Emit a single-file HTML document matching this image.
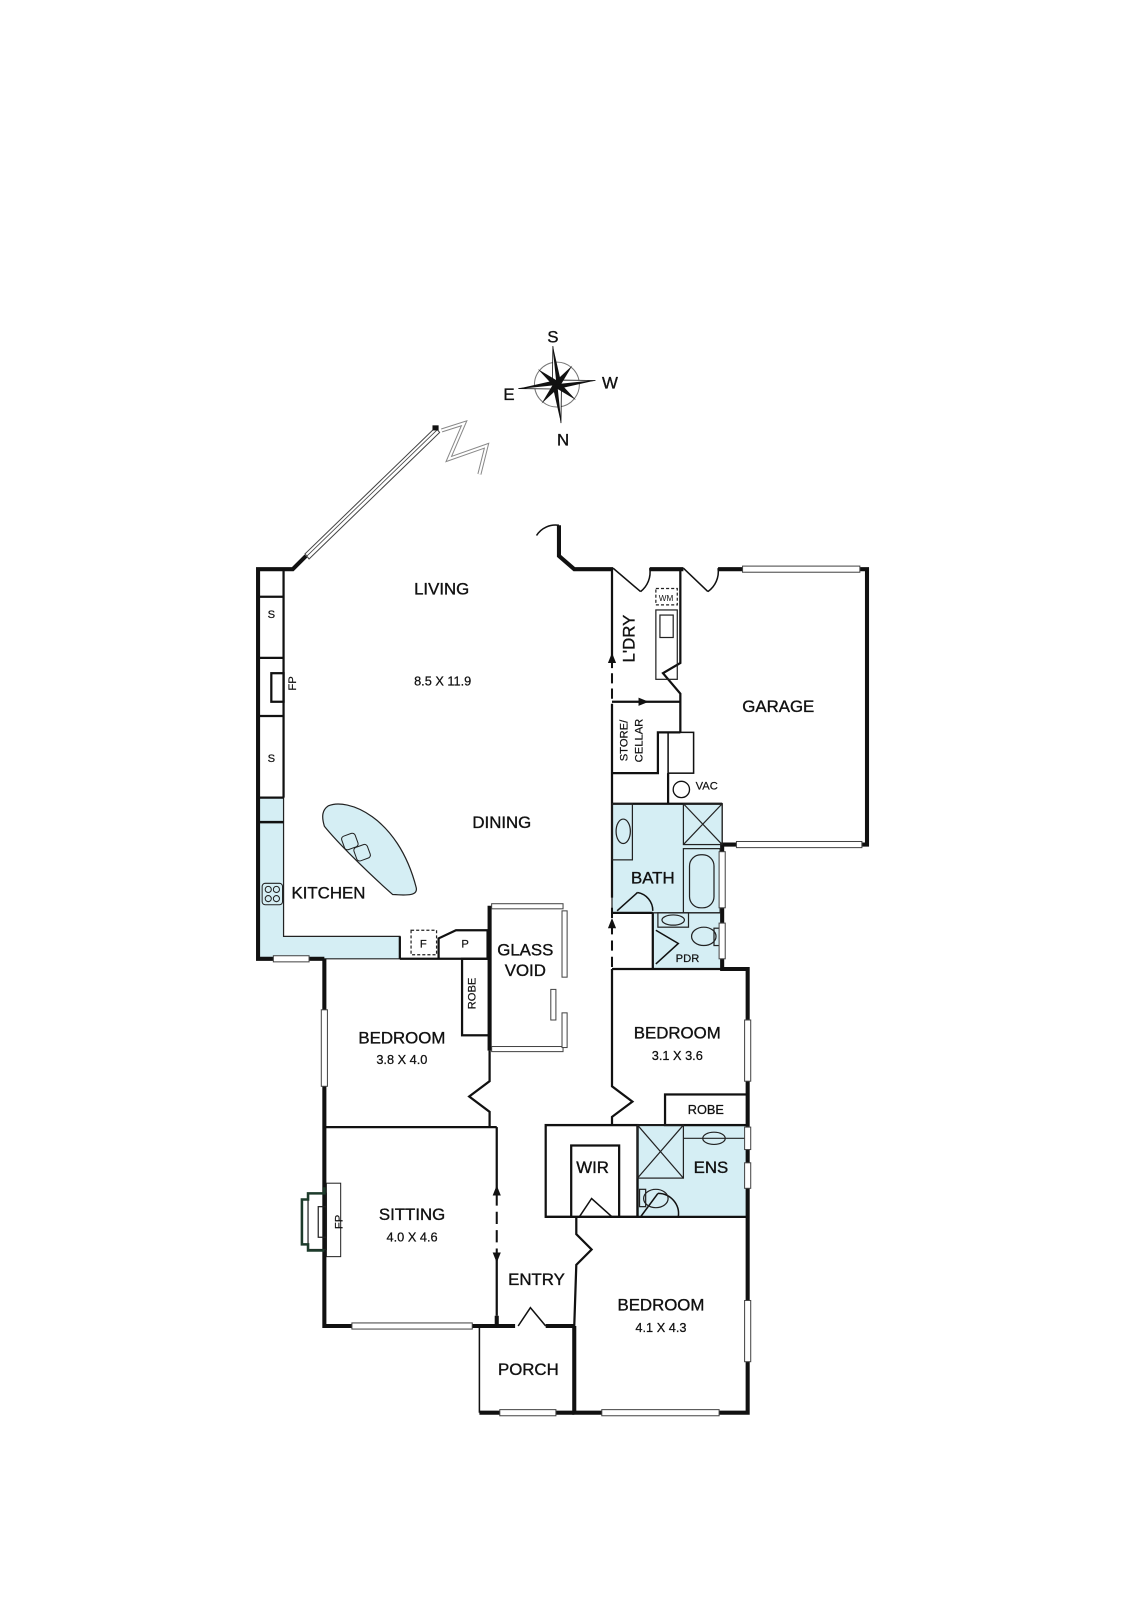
<!DOCTYPE html>
<html><head><meta charset="utf-8"><style>
html,body{margin:0;padding:0;background:#fff;}
svg{display:block;}
text{font-family:"Liberation Sans",sans-serif;fill:#111;}
.r{font-size:16.5px;font-weight:500;stroke:#111;stroke-width:0.35;}
.d{font-size:12.5px;stroke:#111;stroke-width:0.25;}
.s{font-size:11px;stroke:#111;stroke-width:0.2;}
</style></head><body>
<svg width="1131" height="1600" viewBox="0 0 1131 1600" xmlns="http://www.w3.org/2000/svg">
<g transform="scale(1.02)">
<g fill="#d5eef4" stroke="#222" stroke-width="1.2">
<polygon points="253,782 278,782 278,918 392,918 392,940 253,940"/>
<rect x="600" y="788" width="108" height="107"/>
<polygon points="640,895 708,895 708,950 640,950"/>
<rect x="625" y="1103" width="108" height="90"/>
<path d="M322,790 C340,782 390,800 408,870 C410,878 400,878 385,877 C360,855 330,825 318,810 C315,800 316,794 322,790 Z"/>
</g>
<line x1="253" y1="806" x2="278" y2="806" stroke="#111" stroke-width="2.5"/>
<rect x="257" y="866" width="20" height="21" rx="3" fill="#d5eef4" stroke="#222"/>
<g fill="none" stroke="#222" stroke-width="1"><circle cx="263" cy="872" r="3"/><circle cx="271" cy="872" r="3"/><circle cx="263" cy="881" r="3"/><circle cx="271" cy="881" r="3"/></g>
<rect x="336" y="818" width="14" height="14" rx="3" fill="#d5eef4" stroke="#222" transform="rotate(-20 343 825)"/>
<rect x="348" y="829" width="14" height="14" rx="3" fill="#d5eef4" stroke="#222" transform="rotate(-20 355 836)"/>

<g fill="none" stroke="#111" stroke-width="4" stroke-linejoin="miter">
<polyline points="300,545 287,558 253,558 253,940 268,940"/>
<polyline points="548,515 548,545 563,558 601,558"/>
<polyline points="637,558 670,558"/>
<polyline points="704,558 728,558"/>
<polyline points="843,558 850,558 850,828 845,828"/>
<polyline points="722,828 708,828 708,950 733,950 733,1385 705,1385"/>
<polyline points="590,1385 563,1385 563,1300"/>
<polyline points="318,940 318,1300 345,1300"/>
<polyline points="463,1300 487,1300 487,1290"/>
<polyline points="487,1300 505,1300"/>
<polyline points="535,1300 563,1300"/>
<polyline points="470,1385 490,1385"/>
<polyline points="545,1385 563,1385"/>
<polyline points="480,888 480,1030"/>
<polyline points="303,940 318,940"/>
</g>
<g fill="none" stroke="#111" stroke-width="2.2">
<line x1="278" y1="558" x2="278" y2="782"/>
<line x1="253" y1="585" x2="278" y2="585"/>
<line x1="253" y1="645" x2="278" y2="645"/>
<line x1="253" y1="702" x2="278" y2="702"/>
<line x1="253" y1="782" x2="278" y2="782"/>
<rect x="266" y="660" width="12" height="28"/>
<line x1="392" y1="940" x2="480" y2="940"/>
<polyline points="392,918 392,940"/>
<polyline points="430,940 430,920 447,912 478,912 478,940"/>
<rect x="453" y="940" width="27" height="75"/>
<polyline points="480,1030 480,1060 460,1075 480,1090 480,1105"/>
<line x1="318" y1="1105" x2="487" y2="1105"/>
<polyline points="487,1105 487,1165"/>
<polyline points="487,1235 487,1290"/>
<line x1="470" y1="1300" x2="470" y2="1385" stroke-width="1.5"/>
<polyline points="563,1300 565,1240 580,1225 565,1210 565,1193"/>
<line x1="600" y1="558" x2="600" y2="645"/>
<line x1="600" y1="690" x2="600" y2="880"/>
<polyline points="600,950 600,1065 620,1080 600,1095 600,1103"/>
<line x1="600" y1="950" x2="708" y2="950"/>
<line x1="600" y1="688" x2="667" y2="688"/>
<polyline points="667,558 667,650 650,660 667,680 667,718"/>
<polyline points="600,758 645,758 645,718 667,718"/>
<rect x="655" y="718" width="25" height="40" stroke-width="1.5"/>
<polyline points="655,758 655,788"/>
<circle cx="668" cy="774" r="8" stroke-width="1.3"/>
<line x1="600" y1="788" x2="708" y2="788"/>
<line x1="600" y1="895" x2="640" y2="895"/>
<line x1="640" y1="895" x2="640" y2="950"/>
<line x1="535" y1="1103" x2="733" y2="1103"/>
<rect x="652" y="1073" width="81" height="30"/>
<rect x="535" y="1103" width="90" height="90"/>
<polyline points="560,1193 560,1123 607,1123 607,1193"/>
<line x1="535" y1="1193" x2="733" y2="1193"/>
<line x1="625" y1="1103" x2="625" y2="1193"/>
</g>
<g fill="none" stroke="#111" stroke-width="1.5">
<path d="M548,515 A22,22 0 0 0 526,525"/>
<polyline points="601,557 628,580"/><path d="M628,580 A24,24 0 0 0 637,557"/>
<polyline points="670,557 694,580"/><path d="M694,580 A24,24 0 0 0 704,557"/>
<polyline points="605,893 625,875"/><path d="M625,875 A18,18 0 0 1 640,893"/>
<polyline points="643,912 665,925 643,945"/>
<polyline points="628,1193 645,1170"/><path d="M645,1170 A20,20 0 0 1 665,1193"/>
<polyline points="568,1193 580,1175 600,1193"/>
<polyline points="508,1300 520,1282 535,1300"/>
<line x1="487" y1="1170" x2="487" y2="1230" stroke-dasharray="12,6" stroke-width="2"/>
<line x1="602" y1="688" x2="630" y2="688" stroke-dasharray="10,5"/>
<line x1="600" y1="645" x2="600" y2="690" stroke-dasharray="10,5" stroke-width="2"/>
<line x1="600" y1="890" x2="600" y2="950" stroke-dasharray="10,6" stroke-width="2"/>
</g>
<g fill="#111">
<polygon points="487,1162 483,1172 491,1172"/><polygon points="487,1238 483,1228 491,1228"/>
<polygon points="600,640 596,650 604,650"/><polygon points="600,900 596,910 604,910"/>
<polygon points="636,688 626,684 626,692"/>
</g>
<g fill="none" stroke="#222" stroke-width="1.2">
<rect x="643" y="577" width="21" height="16" stroke-dasharray="3,2"/>
<rect x="643" y="598" width="21" height="68"/>
<rect x="647" y="603" width="13" height="22"/>
<rect x="403" y="912" width="25" height="24" stroke-dasharray="3,2"/>
<rect x="670" y="788" width="38" height="40"/>
<line x1="670" y1="788" x2="708" y2="828"/><line x1="708" y1="788" x2="670" y2="828"/>
<rect x="670" y="832" width="36" height="63"/>
<rect x="676" y="838" width="24" height="52" rx="11"/>
<rect x="600" y="788" width="20" height="55"/>
<ellipse cx="611" cy="815" rx="7" ry="12"/>
<rect x="645" y="895" width="30" height="14"/>
<ellipse cx="660" cy="902" rx="11" ry="5"/>
<ellipse cx="690" cy="918" rx="12" ry="9"/>
<rect x="700" y="910" width="8" height="17"/>
<rect x="625" y="1103" width="45" height="52"/>
<line x1="625" y1="1103" x2="670" y2="1155"/><line x1="670" y1="1103" x2="625" y2="1155"/>
<line x1="670" y1="1116" x2="733" y2="1116"/>
<ellipse cx="700" cy="1116" rx="11" ry="6"/>
<ellipse cx="643" cy="1175" rx="12" ry="9"/>
<rect x="627" y="1166" width="6" height="17"/>
<rect x="302" y="1170" width="18" height="55"/>
<rect x="312" y="1183" width="8" height="30"/>
<path d="M318,1164 L318,1170 L302,1170 L302,1176 L296,1176 L296,1220 L302,1220 L302,1226 L318,1226" stroke="#1d3b2b" stroke-width="2.5"/>
<rect x="320" y="1160" width="14" height="72" stroke-width="1"/>
</g>
<g fill="#fff" stroke="#444" stroke-width="1">
<rect x="728" y="555" width="115" height="6"/>
<rect x="722" y="825" width="123" height="6"/>
<rect x="705" y="835" width="6" height="55"/>
<rect x="705" y="905" width="6" height="35"/>
<rect x="730" y="1000" width="6" height="60"/>
<rect x="730" y="1105" width="6" height="22"/><rect x="730" y="1140" width="6" height="25"/>
<rect x="730" y="1275" width="6" height="60"/>
<rect x="590" y="1382" width="115" height="6"/>
<rect x="490" y="1382" width="55" height="6"/>
<rect x="345" y="1297" width="118" height="6"/>
<rect x="315" y="990" width="6" height="75"/>
<rect x="268" y="937" width="35" height="6"/>
<rect x="482" y="886" width="70" height="5"/><rect x="482" y="1026" width="70" height="5"/>
<rect x="551" y="893" width="5" height="65"/><rect x="551" y="993" width="5" height="34"/>
<rect x="540" y="970" width="5" height="30"/>
<polygon points="299,543 303,548 431,424 427,419"/>
</g>
<line x1="301" y1="545" x2="429" y2="421" stroke="#444" stroke-width="0.8"/>
<rect x="424" y="417" width="6" height="5" fill="#111"/>
<polyline points="433,422 455,415 440,450 477,437 470,465" fill="none" stroke="#888" stroke-width="4"/>
<polyline points="433,422 455,415 440,450 477,437 470,465" fill="none" stroke="#fff" stroke-width="2"/>
<g transform="translate(546,377) rotate(-6)">
<circle r="22" fill="none" stroke="#777" stroke-width="1"/>
<polygon points="0,-38 4,-4 0,0" fill="#111"/><polygon points="0,-38 -4,-4 0,0" fill="#fff" stroke="#111" stroke-width="0.8"/>
<polygon points="0,38 -4,4 0,0" fill="#111"/><polygon points="0,38 4,4 0,0" fill="#fff" stroke="#111" stroke-width="0.8"/>
<polygon points="38,0 4,4 0,0" fill="#111"/><polygon points="38,0 4,-4 0,0" fill="#fff" stroke="#111" stroke-width="0.8"/>
<polygon points="-38,0 -4,-4 0,0" fill="#111"/><polygon points="-38,0 -4,4 0,0" fill="#fff" stroke="#111" stroke-width="0.8"/>
<g transform="rotate(45)"><polygon points="0,-24 3,-3 0,0 -3,-3" fill="#111"/><polygon points="0,24 3,3 0,0 -3,3" fill="#111"/><polygon points="24,0 3,3 0,0 3,-3" fill="#111"/><polygon points="-24,0 -3,3 0,0 -3,-3" fill="#111"/></g>
</g>
<text x="542" y="336" class="r" text-anchor="middle">S</text>
<text x="598" y="381" class="r" text-anchor="middle">W</text>
<text x="499" y="392" class="r" text-anchor="middle">E</text>
<text x="552" y="437" class="r" text-anchor="middle">N</text>
<text x="433" y="583" class="r" text-anchor="middle">LIVING</text>
<text x="434" y="672" class="d" text-anchor="middle">8.5 X 11.9</text>
<text x="492" y="812" class="r" text-anchor="middle">DINING</text>
<text x="322" y="881" class="r" text-anchor="middle">KITCHEN</text>
<text x="266" y="606" class="s" text-anchor="middle">S</text>
<text x="266" y="747" class="s" text-anchor="middle">S</text>
<text x="294" y="674" class="s" text-anchor="middle" transform="rotate(-90 290 674)">FP</text>
<text x="415" y="929" class="s" text-anchor="middle">F</text>
<text x="456" y="929" class="s" text-anchor="middle">P</text>
<text x="515" y="937" class="r" text-anchor="middle">GLASS</text>
<text x="515" y="957" class="r" text-anchor="middle">VOID</text>
<text x="470" y="978" class="s" text-anchor="middle" transform="rotate(-90 466 978)">ROBE</text>
<text x="394" y="1023" class="r" text-anchor="middle">BEDROOM</text>
<text x="394" y="1043" class="d" text-anchor="middle">3.8 X 4.0</text>
<text x="404" y="1196" class="r" text-anchor="middle">SITTING</text>
<text x="404" y="1217" class="d" text-anchor="middle">4.0 X 4.6</text>
<text x="340" y="1202" class="s" text-anchor="middle" transform="rotate(-90 336 1202)">FP</text>
<text x="526" y="1260" class="r" text-anchor="middle">ENTRY</text>
<text x="518" y="1348" class="r" text-anchor="middle">PORCH</text>
<text x="648" y="1285" class="r" text-anchor="middle">BEDROOM</text>
<text x="648" y="1306" class="d" text-anchor="middle">4.1 X 4.3</text>
<text x="664" y="1018" class="r" text-anchor="middle">BEDROOM</text>
<text x="664" y="1039" class="d" text-anchor="middle">3.1 X 3.6</text>
<text x="692" y="1092" class="d" text-anchor="middle">ROBE</text>
<text x="581" y="1150" class="r" text-anchor="middle">WIR</text>
<text x="697" y="1150" class="r" text-anchor="middle">ENS</text>
<text x="640" y="866" class="r" text-anchor="middle">BATH</text>
<text x="674" y="943" class="s" text-anchor="middle">PDR</text>
<text x="682" y="774" class="s">VAC</text>
<text x="653" y="589" font-size="8" text-anchor="middle">WM</text>
<text x="763" y="698" class="r" text-anchor="middle">GARAGE</text>
<text x="628" y="632" class="r" text-anchor="middle" transform="rotate(-90 622 632)">L'DRY</text>
<text x="619" y="730" class="s" text-anchor="middle" transform="rotate(-90 615 730)">STORE/</text>
<text x="634" y="730" class="s" text-anchor="middle" transform="rotate(-90 630 730)">CELLAR</text>
</g>
</svg>
</body></html>
